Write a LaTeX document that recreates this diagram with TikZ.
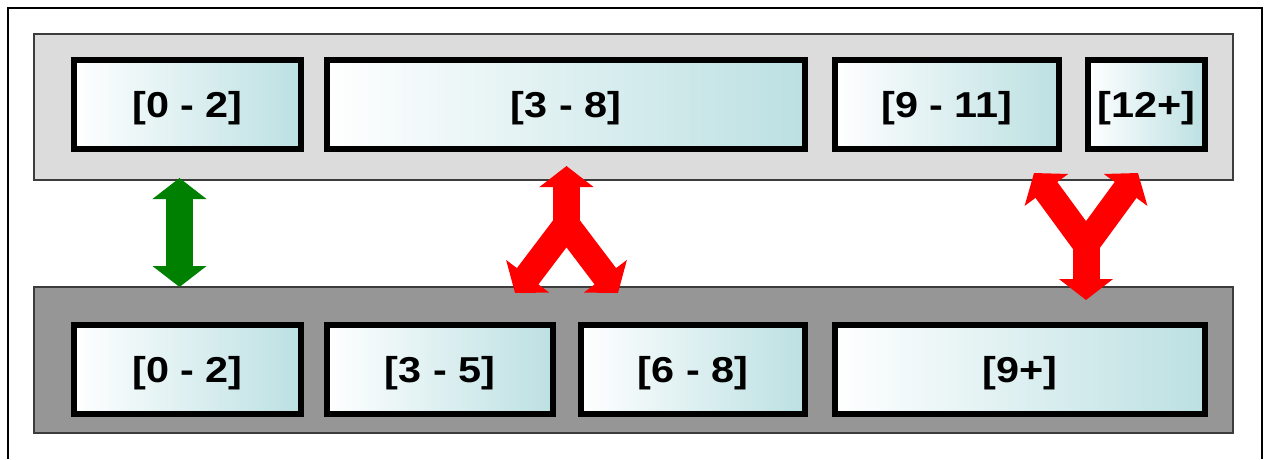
\documentclass[tikz,border=0pt]{standalone}
\usepackage{fontspec}
\newfontfamily\labfont{Liberation Sans}[FakeStretch=1.15]
\usetikzlibrary{arrows.meta}
\definecolor{tealc}{RGB}{188,224,226}
\definecolor{bandA}{RGB}{220,220,220}
\definecolor{bandB}{RGB}{150,150,150}
\definecolor{bandline}{RGB}{60,60,60}
\definecolor{arrowgreen}{RGB}{0,128,0}
\definecolor{arrowred}{RGB}{255,0,0}
\tikzset{
  bandbox/.style={draw=bandline, line width=1.2pt, inner sep=0pt, minimum width=1199pt, minimum height=146pt},
  cell/.style={draw=black, line width=6.5pt, left color=white, right color=tealc, inner sep=0pt,
    minimum height=89pt, text height=29pt, text depth=3.2pt,
    font=\labfont\bfseries\fontsize{36}{40}\selectfont, text=black},
  blockarrow/.style={line width=27pt, line join=miter, line cap=butt},
  bigtip/.tip={Triangle[length=21pt,width=53pt]},
}
\begin{document}
\begin{tikzpicture}[x=1pt,y=-1pt]
\useasboundingbox (0,0) rectangle (1264,459);
\fill[white] (0,0) rectangle (1264,459);
\draw[line width=1.5pt] (8,459) -- (8,8) -- (1262,8) -- (1262,459);

\node[bandbox, fill=bandA] (topband) at (633.5,107) {};
\node[bandbox, fill=bandB] (botband) at (633.5,360) {};

\node[cell, minimum width=227pt] (u1) at (187.5,104.5) {[0 - 2]};
\node[cell, minimum width=478pt] (u2) at (566,104.5) {[3 - 8]};
\node[cell, minimum width=224pt] (u3) at (947,104.5) {[9 - 11]};
\node[cell, minimum width=117pt] (u4) at (1146.5,104.5) {[12+]};

\node[cell, minimum width=227pt] (l1) at (187.5,369.5) {[0 - 2]};
\node[cell, minimum width=226pt] (l2) at (440,369.5) {[3 - 5]};
\node[cell, minimum width=224pt] (l3) at (693,369.5) {[6 - 8]};
\node[cell, minimum width=370pt] (l4) at (1020,369.5) {[9+]};

% green double arrow
\coordinate (gTop) at (179.5,178);
\coordinate (gBot) at (179.5,287);
\draw[blockarrow, draw=arrowgreen, {bigtip}-{bigtip}] (gTop) -- (gBot);

% middle split arrow
\coordinate (mJ) at (566.5,225);
\coordinate (mT) at (566.5,166);
\coordinate (mL) at (515,293);
\coordinate (mR) at (618,293);
\draw[blockarrow, draw=arrowred, {bigtip}-{bigtip}] (mL) -- (mJ) -- (mR);
\draw[blockarrow, draw=arrowred, -{bigtip}] (mJ) -- (mT);

% right merge arrow
\coordinate (yJ) at (1086,244);
\coordinate (yB) at (1086,300);
\coordinate (yL) at (1034,173);
\coordinate (yR) at (1138,173);
\draw[blockarrow, draw=arrowred, {bigtip}-{bigtip}] (yL) -- (yJ) -- (yR);
\draw[blockarrow, draw=arrowred, -{bigtip}] (yJ) -- (yB);
\end{tikzpicture}
\end{document}
